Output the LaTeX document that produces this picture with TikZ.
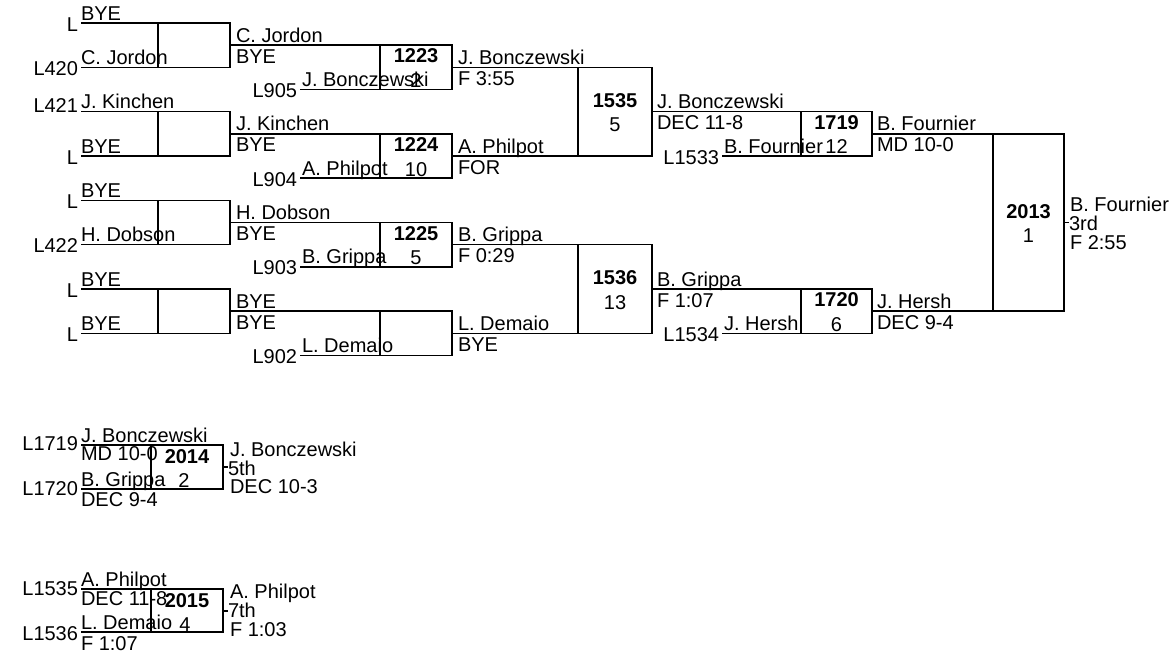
\documentclass[tikz,border=0pt]{standalone}
\usepackage{fontspec}
\setmainfont{Liberation Sans}
\begin{document}
\begin{tikzpicture}[x=0.75pt,y=-0.75pt,
  ln/.style={line width=1.1pt,black},
  tl/.style={inner sep=0pt,outer sep=0pt,anchor=base west,font=\fontsize{15pt}{18pt}\selectfont},
  tlr/.style={tl,anchor=base east},
  tn/.style={tl,anchor=base,font=\fontsize{15pt}{18pt}\selectfont\bfseries},
  ts/.style={tl,anchor=base}]
\useasboundingbox (0,0) rectangle (1173,654);
% ---------- round 1 brackets ----------
\draw[ln] (81,23) -- (230,23) -- (230,67.3) -- (81,67.3); \draw[ln] (158,23) -- (158,67.3);
\draw[ln] (81,111.7) -- (230,111.7) -- (230,156) -- (81,156); \draw[ln] (158,111.7) -- (158,156);
\draw[ln] (81,200.4) -- (230,200.4) -- (230,244.7) -- (81,244.7); \draw[ln] (158,200.4) -- (158,244.7);
\draw[ln] (81,289) -- (230,289) -- (230,333.4) -- (81,333.4); \draw[ln] (158,289) -- (158,333.4);
% ---------- round 2 boxes ----------
\draw[ln] (230,45.2) -- (452,45.2) -- (452,89.5) -- (300,89.5); \draw[ln] (380,45.2) -- (380,89.5);
\draw[ln] (230,133.9) -- (452,133.9) -- (452,178.2) -- (300,178.2); \draw[ln] (380,133.9) -- (380,178.2);
\draw[ln] (230,222.5) -- (452,222.5) -- (452,266.9) -- (300,266.9); \draw[ln] (380,222.5) -- (380,266.9);
\draw[ln] (230,311.2) -- (452,311.2) -- (452,355.6) -- (300,355.6); \draw[ln] (380,311.2) -- (380,355.6);
% ---------- round 3 boxes ----------
\draw[ln] (452,67.3) -- (652,67.3) -- (652,156) -- (452,156); \draw[ln] (578,67.3) -- (578,156);
\draw[ln] (452,244.7) -- (652,244.7) -- (652,333.4) -- (452,333.4); \draw[ln] (578,244.7) -- (578,333.4);
% ---------- round 4 boxes ----------
\draw[ln] (652,111.7) -- (872,111.7) -- (872,156) -- (722,156); \draw[ln] (801,111.7) -- (801,156);
\draw[ln] (652,289) -- (872,289) -- (872,333.4) -- (722,333.4); \draw[ln] (801,289) -- (801,333.4);
% ---------- final box ----------
\draw[ln] (872,133.9) -- (1064,133.9) -- (1064,311.2) -- (872,311.2); \draw[ln] (993,133.9) -- (993,311.2);
\draw[ln] (1064,222.5) -- (1069,222.5);
% ---------- bottom boxes ----------
\draw[ln] (81,445) -- (223,445) -- (223,489) -- (81,489); \draw[ln] (151,445) -- (151,489);
\draw[ln] (223,467) -- (228,467);
\draw[ln] (81,589) -- (223,589) -- (223,632) -- (81,632); \draw[ln] (151,589) -- (151,632);
\draw[ln] (223,611) -- (228,611);

% ---------- round 1 texts ----------
\node[tl] (a1) at (81,20) {BYE};        \node[tlr] (la1) at (78,31) {L};
\node[tl] (a2) at (81,64.3) {C. Jordon}; \node[tlr] (la2) at (78,75.3) {L420};
\node[tl] (a3) at (81,108.7) {J. Kinchen}; \node[tlr] (la3) at (78,112.7) {L421};
\node[tl] (a4) at (81,153) {BYE};       \node[tlr] (la4) at (78,164) {L};
\node[tl] (a5) at (81,197.4) {BYE};     \node[tlr] (la5) at (78,208.4) {L};
\node[tl] (a6) at (81,241.7) {H. Dobson}; \node[tlr] (la6) at (78,252.7) {L422};
\node[tl] (a7) at (81,286) {BYE};       \node[tlr] (la7) at (78,297) {L};
\node[tl] (a8) at (81,330.4) {BYE};     \node[tlr] (la8) at (78,341.4) {L};
% ---------- round 2 texts ----------
\node[tl] (b1) at (236,42.2) {C. Jordon};  \node[tl] (b1r) at (236,63.2) {BYE};
\node[tl] (b2) at (236,130.9) {J. Kinchen}; \node[tl] (b2r) at (236,151.9) {BYE};
\node[tl] (b3) at (236,219.5) {H. Dobson};  \node[tl] (b3r) at (236,240.5) {BYE};
\node[tl] (b4) at (236,308.2) {BYE};        \node[tl] (b4r) at (236,329.2) {BYE};
\node[tl] (c1) at (302,86.5) {J. Bonczewski}; \node[tlr] (lc1) at (297,97.5) {L905};
\node[tl] (c2) at (302,175.2) {A. Philpot};   \node[tlr] (lc2) at (297,186.2) {L904};
\node[tl] (c3) at (302,263.9) {B. Grippa};    \node[tlr] (lc3) at (297,274.9) {L903};
\node[tl] (c4) at (302,352.6) {L. Demaio};    \node[tlr] (lc4) at (297,363.6) {L902};
\node[tn] (m1223) at (416,62.8) {1223};  \node[ts] (s1223) at (416,87.3) {2};
\node[tn] (m1224) at (416,151.5) {1224}; \node[ts] (s1224) at (416,176) {10};
\node[tn] (m1225) at (416,240.2) {1225}; \node[ts] (s1225) at (416,264.7) {5};
% ---------- round 3 texts ----------
\node[tl] (d1) at (458,64.3) {J. Bonczewski}; \node[tl] (d1r) at (458,85.3) {F 3:55};
\node[tl] (d2) at (458,153) {A. Philpot};     \node[tl] (d2r) at (458,174) {FOR};
\node[tl] (d3) at (458,241.7) {B. Grippa};    \node[tl] (d3r) at (458,262.7) {F 0:29};
\node[tl] (d4) at (458,330.4) {L. Demaio};    \node[tl] (d4r) at (458,351.4) {BYE};
\node[tn] (m1535) at (615,107.2) {1535}; \node[ts] (s1535) at (615,131.7) {5};
\node[tn] (m1536) at (615,284.5) {1536}; \node[ts] (s1536) at (615,309) {13};
% ---------- round 4 texts ----------
\node[tl] (e1) at (657,108.7) {J. Bonczewski}; \node[tl] (e1r) at (657,129.7) {DEC 11-8};
\node[tl] (e2) at (657,286) {B. Grippa};       \node[tl] (e2r) at (657,307) {F 1:07};
\node[tl] (f1) at (724,153) {B. Fournier}; \node[tlr] (lf1) at (719,164) {L1533};
\node[tl] (f2) at (724,330.4) {J. Hersh};  \node[tlr] (lf2) at (719,341.4) {L1534};
\node[tn] (m1719) at (836.5,129.4) {1719}; \node[ts] (s1719) at (836.5,153.9) {12};
\node[tn] (m1720) at (836.5,306.7) {1720}; \node[ts] (s1720) at (836.5,331.2) {6};
% ---------- final texts ----------
\node[tl] (g1) at (877,130.9) {B. Fournier}; \node[tl] (g1r) at (877,151.9) {MD 10-0};
\node[tl] (g2) at (877,308.2) {J. Hersh};    \node[tl] (g2r) at (877,329.2) {DEC 9-4};
\node[tn] (m2013) at (1028.5,218) {2013}; \node[ts] (s2013) at (1028.5,242.5) {1};
\node[tl] (h1) at (1070,211) {B. Fournier};
\node[tl] (h2) at (1069,230) {3rd};
\node[tl] (h3) at (1070,249) {F 2:55};
% ---------- bottom 2014 ----------
\node[tl] (i1) at (81,442) {J. Bonczewski}; \node[tl] (i1r) at (81,460) {MD 10-0};
\node[tl] (i2) at (81,486) {B. Grippa};     \node[tl] (i2r) at (81,506) {DEC 9-4};
\node[tlr] (li1) at (78,450) {L1719}; \node[tlr] (li2) at (78,495) {L1720};
\node[tn] (m2014) at (187,463) {2014}; \node[ts] (s2014) at (184,487) {2};
\node[tl] (j1) at (230,456) {J. Bonczewski};
\node[tl] (j2) at (228,475) {5th};
\node[tl] (j3) at (230,493) {DEC 10-3};
% ---------- bottom 2015 ----------
\node[tl] (k1) at (81,586) {A. Philpot}; \node[tl] (k1r) at (81,605) {DEC 11-8};
\node[tl] (k2) at (81,629) {L. Demaio};  \node[tl] (k2r) at (81,650) {F 1:07};
\node[tlr] (lk1) at (78,595) {L1535}; \node[tlr] (lk2) at (78,640) {L1536};
\node[tn] (m2015) at (187,607) {2015}; \node[ts] (s2015) at (185,631) {4};
\node[tl] (q1) at (230,598) {A. Philpot};
\node[tl] (q2) at (228,617) {7th};
\node[tl] (q3) at (230,636) {F 1:03};
\end{tikzpicture}
\end{document}
